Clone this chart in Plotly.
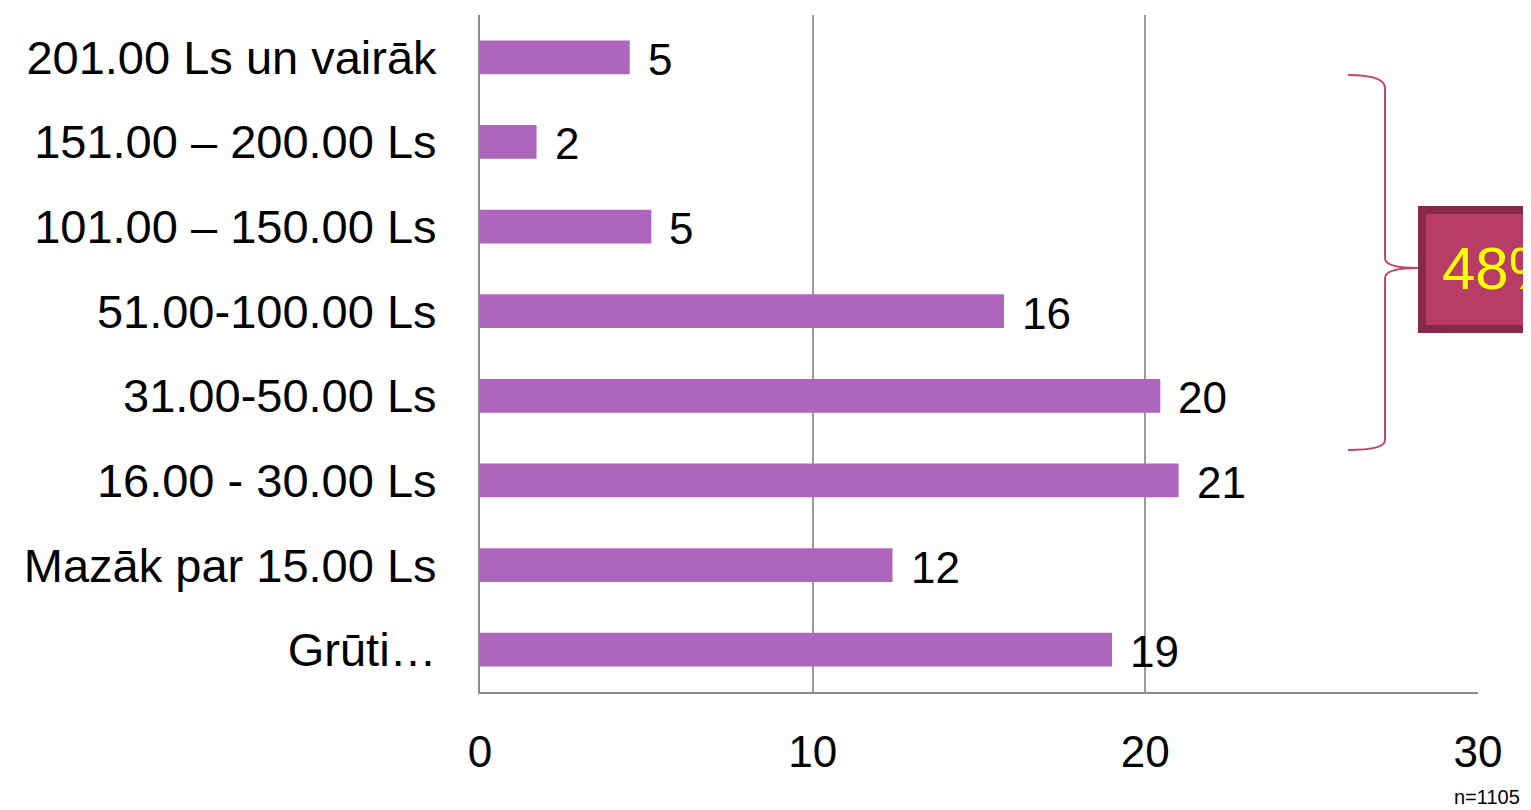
import plotly.graph_objects as go

categories = [
    "201.00 Ls un vairāk",
    "151.00 – 200.00 Ls",
    "101.00 – 150.00 Ls",
    "51.00-100.00 Ls",
    "31.00-50.00 Ls",
    "16.00 - 30.00 Ls",
    "Mazāk par 15.00 Ls",
    "Grūti…",
]
values = [4.5, 1.7, 5.15, 15.75, 20.45, 21.0, 12.4, 19.0]
value_labels = ["5", "2", "5", "16", "20", "21", "12", "19"]
x_ticks = [0, 10, 20, 30]
total_label = "48%"
n_label = "n=1105"

# page body has an 8px margin, so the figure starts at (8, 8)
OFF = 8
W, H = 1531 - OFF, 810 - OFF
L, R, T, B = 480 - OFF, 53, 15 - OFF, 118
FONT = "Liberation Sans, Arial, sans-serif"


def px(x):
    # window pixel -> paper x
    return (x - OFF - L) / (W - L - R)


def py(y):
    # window pixel -> paper y
    return (H - B - (y - OFF)) / (H - T - B)


fig = go.Figure()
fig.add_trace(
    go.Bar(
        x=values,
        y=categories,
        orientation="h",
        marker=dict(color="#AD66BC", line=dict(width=0)),
        hoverinfo="skip",
    )
)

for cat, val, lab in zip(categories, values, value_labels):
    fig.add_annotation(
        x=val, y=cat, text=lab, showarrow=False,
        xanchor="left", yanchor="middle", xshift=16, yshift=-2,
        font=dict(size=44, color="black", family=FONT),
    )

# curly brace
pts = [(1348, 75), (1385, 75), (1385, 88), (1385, 258), (1385, 268), (1418, 268),
       (1385, 268), (1385, 278), (1385, 440), (1385, 450), (1348, 450)]
c = [f"{px(a):.5f},{py(b):.5f}" for a, b in pts]
path = (f"M {c[0]} Q {c[1]} {c[2]} L {c[3]} Q {c[4]} {c[5]} "
        f"Q {c[6]} {c[7]} L {c[8]} Q {c[9]} {c[10]}")
fig.add_shape(type="path", path=path, xref="paper", yref="paper",
              line=dict(color="#C0466E", width=2))

# 48% box
fig.add_shape(type="rect", xref="paper", yref="paper",
              x0=px(1422), x1=px(1580), y0=py(329), y1=py(210),
              fillcolor="#B83C66", line=dict(color="#862A4A", width=8))
fig.add_annotation(x=px(1440), y=py(268), xref="paper", yref="paper",
                   text=total_label, showarrow=False, xanchor="left", yanchor="middle",
                   font=dict(size=60, color="#FFFF00", family=FONT))

fig.add_annotation(x=px(1522), y=py(797), xref="paper", yref="paper",
                   text=n_label, showarrow=False, xanchor="right", yanchor="middle",
                   font=dict(size=20, color="black", family=FONT))

fig.update_layout(
    width=W, height=H,
    margin=dict(l=L, r=R, t=T, b=B),
    plot_bgcolor="white", paper_bgcolor="white",
    showlegend=False,
    bargap=0.6,
    font=dict(family=FONT, size=44, color="black"),
)
fig.update_xaxes(
    range=[0, 30], tickvals=x_ticks, showgrid=True, gridcolor="#9A9A9A", gridwidth=1.5,
    showline=True, linecolor="#8C8C8C", linewidth=2, zeroline=False,
    ticks="", ticklabelstandoff=20, tickfont=dict(size=44),
)
fig.update_yaxes(
    categoryorder="array", categoryarray=categories, autorange="reversed",
    showline=True, linecolor="#8C8C8C", linewidth=2, showgrid=False,
    ticks="", ticklabelstandoff=32, tickfont=dict(size=47),
)

fig.write_html("out.html")
